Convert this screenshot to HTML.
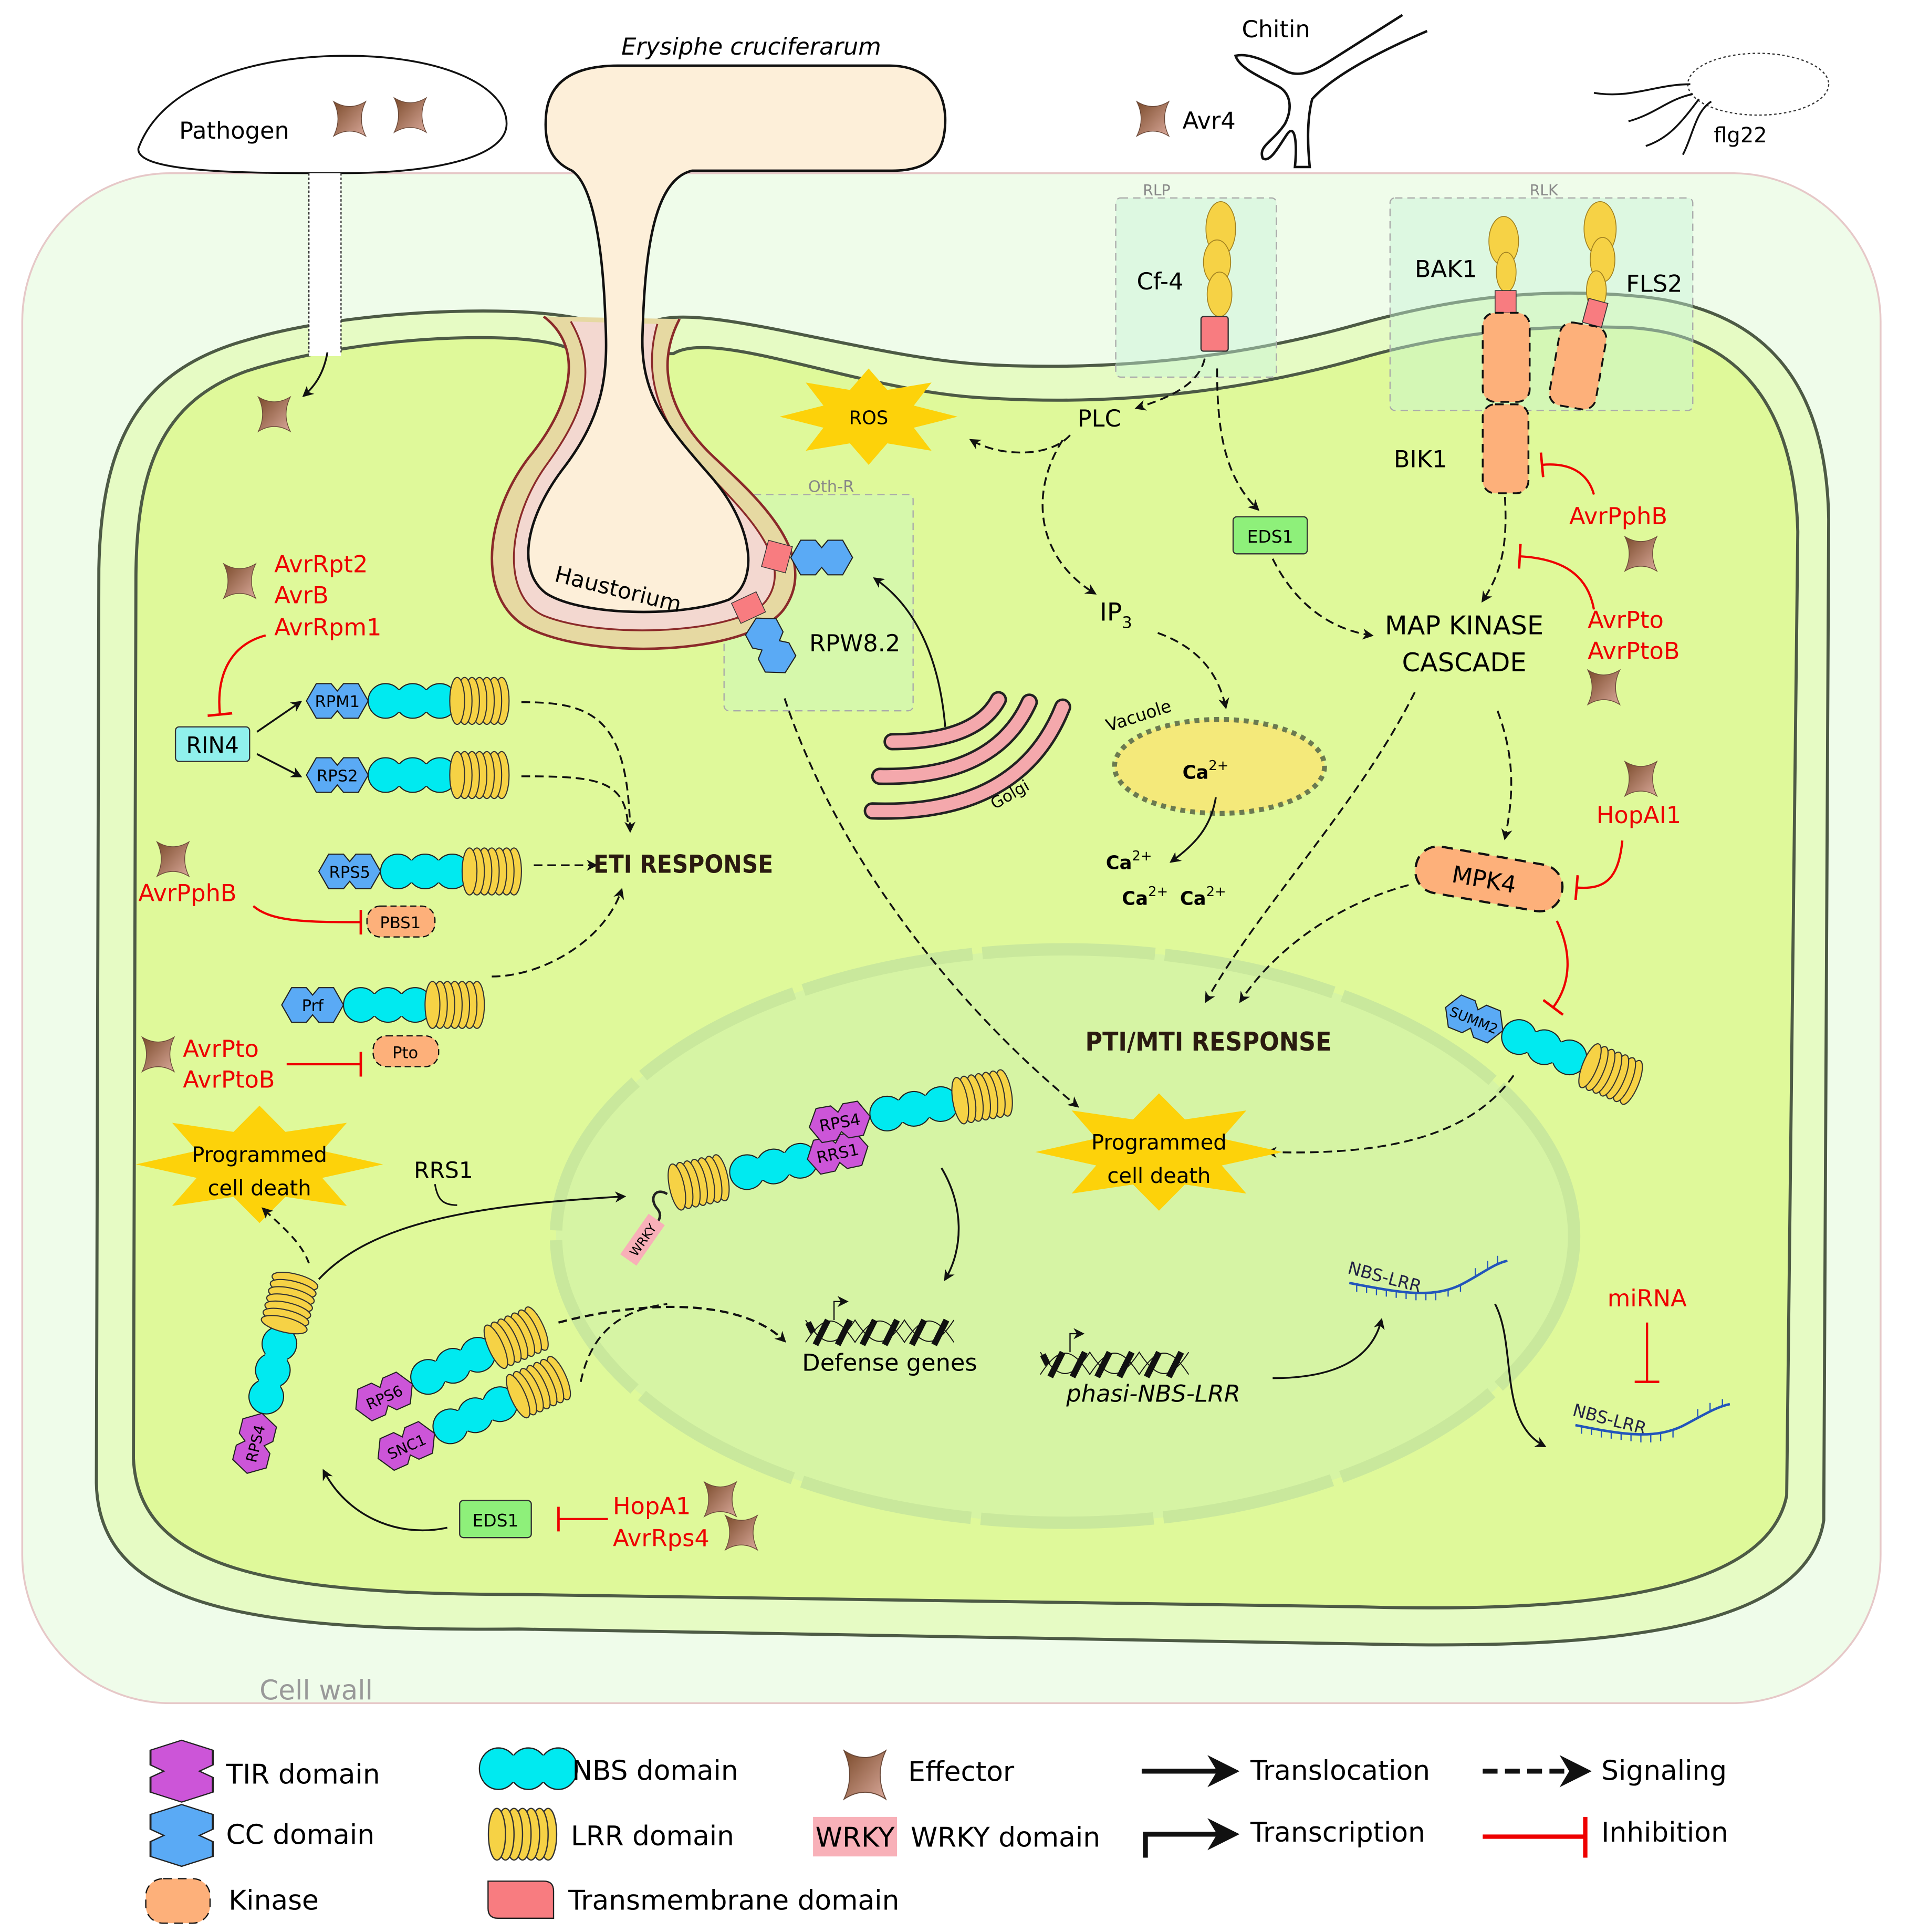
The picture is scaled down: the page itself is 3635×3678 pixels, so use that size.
<!DOCTYPE html>
<html><head><meta charset="utf-8"><style>html,body{margin:0;padding:0;background:#fff}svg{display:block}text{font-family:"DejaVu Sans","Liberation Sans",sans-serif}</style></head>
<body>
<svg width="3635" height="3678" viewBox="0 0 1545 1563" xmlns="http://www.w3.org/2000/svg">
<defs>
<marker id="ah" viewBox="0 0 10 10" refX="8" refY="5" markerWidth="9" markerHeight="9" orient="auto" markerUnits="userSpaceOnUse"><path d="M0,0 L10,5 L0,10 L3,5Z" fill="#111"/></marker>
<marker id="ahb" viewBox="0 0 10 10" refX="8" refY="5" markerWidth="26" markerHeight="26" orient="auto" markerUnits="userSpaceOnUse"><path d="M0,0 L10,5 L0,10 L3,5Z" fill="#111"/></marker>
<marker id="tb" viewBox="0 0 4 20" refX="2" refY="10" markerWidth="4" markerHeight="20" orient="auto" markerUnits="userSpaceOnUse"><path d="M2,0 L2,20" stroke="#e00" stroke-width="2"/></marker>
<linearGradient id="eg" x1="0" y1="0" x2="1" y2="1"><stop offset="0" stop-color="#7a4a2a"/><stop offset="1" stop-color="#d9a89a"/></linearGradient>
<path id="eff" d="M-13,-14 Q0,-6 13,-14 Q6,0 13,14 Q0,6 -13,14 Q-6,0 -13,-14Z" fill="url(#eg)" stroke="#6b4a3a" stroke-width="0.6"/>
<g id="nbs" stroke="#222" stroke-width="0.9" fill="#00eaf0"><circle cx="14" cy="0" r="14"/><circle cx="36" cy="0" r="14"/><circle cx="58" cy="0" r="14"/><rect x="14" y="-9" width="44" height="18" stroke="none"/></g>
<g id="lrr" fill="#f6d245" stroke="#333" stroke-width="0.9"><ellipse cx="44" cy="0" rx="6" ry="19"/><ellipse cx="38" cy="0" rx="6" ry="19"/><ellipse cx="32" cy="0" rx="6" ry="19"/><ellipse cx="26" cy="0" rx="6" ry="19"/><ellipse cx="20" cy="0" rx="6" ry="19"/><ellipse cx="14" cy="0" rx="6" ry="19"/><ellipse cx="8" cy="0" rx="6" ry="19"/></g>
<polygon id="hex" points="0,0 8,-14 20,-14 25,-8 30,-14 42,-14 50,0 42,14 30,14 25,8 20,14 8,14" stroke="#222" stroke-width="0.9"/>
<polygon id="star" points="100,0 50.8,11.5 70.7,35.4 21,27.7 0,50 -21,27.7 -70.7,35.4 -50.8,11.5 -100,0 -50.8,-11.5 -70.7,-35.4 -21,-27.7 0,-50 21,-27.7 70.7,-35.4 50.8,-11.5" fill="#fdd20a"/>
<g id="dna" stroke="#111" fill="none"><path d="M0,18 C15,-5 25,-5 40,18 C55,-5 65,-5 80,18 C95,-5 105,-5 120,18" stroke-width="0.8"/><path d="M0,0 C15,23 25,23 40,0 C55,23 65,23 80,0 C95,23 105,23 120,0" stroke-width="0.8"/><g stroke-width="5"><path d="M8,20 L18,0"/><path d="M26,20 L36,0"/><path d="M46,20 L56,0"/><path d="M64,20 L74,0"/><path d="M86,20 L96,0"/><path d="M104,20 L114,0"/><path d="M2,2 L6,10"/></g></g>
</defs>

<rect x="18" y="140" width="1504" height="1238" rx="120" fill="#effcea" stroke="#e6c8c8" stroke-width="1.5"/>
<path d="M490 268 C480 245 300 245 200 275 C110 300 82 360 80 460 L78 1200 C80 1300 200 1320 420 1318 L1100 1330 C1300 1335 1462 1320 1476 1230 L1480 420 C1478 300 1420 250 1330 240 C1250 232 1180 240 1100 262 C1000 290 900 300 800 295 C700 290 560 240 525 262 Z" fill="#e6fbc4" stroke="#4d5a45" stroke-width="2.5"/>
<path d="M466 286 C450 266 300 268 200 300 C130 325 110 380 110 470 L108 1180 C112 1270 220 1290 420 1290 L1100 1300 C1280 1305 1430 1290 1446 1210 L1455 430 C1452 320 1400 270 1320 265 C1240 262 1170 270 1100 290 C1000 318 900 328 800 322 C700 318 580 265 545 286 Z" fill="#dff99a" stroke="#4d5a45" stroke-width="2.5"/>
<rect x="903" y="160" width="130" height="145" rx="4" fill="#c8f5d8" fill-opacity="0.45" stroke="#aaa" stroke-dasharray="6 4"/>
<text x="925" y="158" font-size="12" fill="#888">RLP</text>
<rect x="1125" y="160" width="245" height="172" rx="4" fill="#c8f5d8" fill-opacity="0.45" stroke="#aaa" stroke-dasharray="6 4"/>
<text x="1238" y="158" font-size="12" fill="#888">RLK</text>
<ellipse cx="862" cy="1000" rx="412" ry="232" fill="#d6f4a4" stroke="#c9e89c" stroke-width="10" stroke-dasharray="140 8"/>
<rect x="586" y="400" width="153" height="175" rx="4" fill="#d0f6b8" fill-opacity="0.6" stroke="#aaa" stroke-dasharray="6 4"/>
<text x="654" y="398" font-size="13" fill="#888">Oth-R</text>

<!-- haustorium sheath -->
<path d="M440 256 C472 280 465 325 428 370 C390 420 385 490 432 510 C490 535 610 528 635 492 C665 448 610 400 578 370 C546 340 528 300 550 258 Z" fill="#e6d9a2"/>
<path d="M440 256 C472 280 465 325 428 370 C390 420 385 490 432 510 C490 535 610 528 635 492 C665 448 610 400 578 370 C546 340 528 300 550 258" fill="none" stroke="#8b2a2a" stroke-width="2"/>
<path d="M462 260 C485 300 472 335 443 375 C410 420 405 482 440 498 C490 518 600 512 620 486 C645 452 598 410 568 378 C540 350 518 310 532 262 Z" fill="#f3d8d0"/>
<path d="M462 260 C485 300 472 335 443 375 C410 420 405 482 440 498 C490 518 600 512 620 486 C645 452 598 410 568 378 C540 350 518 310 532 262" fill="none" stroke="#8b2a2a" stroke-width="1.5"/>
<path d="M463 138 C445 130 440 115 442 92 C445 62 470 53 500 53 L720 53 C750 53 765 72 765 97 C765 125 752 138 722 138 L560 138 C530 145 522 200 520 270 C518 320 540 345 575 385 C610 425 615 470 590 485 C550 500 470 498 442 480 C418 462 425 420 455 380 C490 335 492 300 490 260 C488 200 480 150 463 138 Z" fill="#fdefd9" stroke="#111" stroke-width="2"/>
<text x="608" y="44" font-size="19" font-style="italic" text-anchor="middle">Erysiphe cruciferarum</text>
<text x="448" y="470" font-size="18" transform="rotate(14 448 470)">Haustorium</text>

<path d="M112 120 C130 70 200 45 280 45 C360 45 410 70 410 100 C410 125 360 140 275 140 C200 140 110 140 112 120Z" fill="#fff" stroke="#111" stroke-width="1.5"/>
<text x="145" y="112" font-size="19">Pathogen</text>
<use href="#eff" x="283" y="96"/><use href="#eff" x="332" y="93"/>
<rect x="250" y="140" width="26" height="148" fill="#fff"/>
<path d="M250 140 L250 285 M276 140 L276 285" stroke="#333" stroke-dasharray="2 1.5"/>
<path d="M265 285 C262 302 255 312 246 320" fill="none" stroke="#111" stroke-width="1.5" marker-end="url(#ah)"/>
<use href="#eff" x="222" y="335"/>

<!-- chitin -->
<path d="M1135 12 L1075 50 C1062 58 1052 62 1042 58 C1030 52 1012 42 1000 45 C1003 55 1020 62 1035 70 C1045 76 1046 88 1040 100 C1030 115 1018 118 1022 128 C1028 132 1035 118 1042 108 C1048 100 1050 115 1048 135 L1060 135 C1058 115 1058 95 1062 80 C1080 60 1120 40 1155 25" fill="none" stroke="#111" stroke-width="2"/>
<text x="1005" y="30" font-size="19">Chitin</text>
<use href="#eff" x="933" y="96"/>
<text x="957" y="104" font-size="19">Avr4</text>
<ellipse cx="1423" cy="68" rx="57" ry="25" fill="#fff" stroke="#333" stroke-dasharray="2 2"/>
<path d="M1290 75 C1320 80 1340 68 1368 68 M1318 98 C1340 92 1350 80 1370 76 M1332 118 C1350 112 1360 100 1375 80 M1362 125 C1370 110 1372 90 1385 82" fill="none" stroke="#111" stroke-width="1.5"/>
<text x="1387" y="115" font-size="17">flg22</text>

<g fill="#f6d245" stroke="#a08020" stroke-width="0.7"><ellipse cx="988" cy="185" rx="12" ry="22"/><ellipse cx="985" cy="212" rx="11" ry="18"/><ellipse cx="987" cy="238" rx="10" ry="18"/></g>
<rect x="972" y="256" width="22" height="28" rx="2" fill="#f87c80" stroke="#333"/>
<text x="920" y="234" font-size="19">Cf-4</text>
<g fill="#f6d245" stroke="#a08020" stroke-width="0.7"><ellipse cx="1217" cy="195" rx="12" ry="20"/><ellipse cx="1219" cy="220" rx="8" ry="16"/></g>
<rect x="1210" y="235" width="17" height="18" fill="#f87c80" stroke="#333" stroke-width="0.7"/>
<rect x="1200" y="253" width="38" height="72" rx="10" fill="#fdb07a" stroke="#111" stroke-width="1.5" stroke-dasharray="7 5"/>
<rect x="1200" y="327" width="37" height="72" rx="10" fill="#fdb07a" stroke="#111" stroke-width="1.5" stroke-dasharray="7 5"/>
<text x="1145" y="224" font-size="19">BAK1</text>
<text x="1128" y="378" font-size="19">BIK1</text>
<g fill="#f6d245" stroke="#a08020" stroke-width="0.7"><ellipse cx="1295" cy="185" rx="13" ry="22"/><ellipse cx="1297" cy="210" rx="10" ry="18"/><ellipse cx="1292" cy="235" rx="8" ry="16"/></g>
<rect x="1283" y="243" width="16" height="20" fill="#f87c80" stroke="#333" stroke-width="0.7" transform="rotate(15 1291 253)"/>
<rect x="1258" y="262" width="38" height="68" rx="10" fill="#fdb07a" stroke="#111" stroke-width="1.5" stroke-dasharray="7 5" transform="rotate(10 1277 296)"/>
<text x="1316" y="236" font-size="19">FLS2</text>

<use href="#star" transform="translate(703 337) scale(0.72 0.78)"/>
<text x="703" y="343" font-size="15" text-anchor="middle">ROS</text>
<text x="872" y="345" font-size="19">PLC</text>
<path d="M975 290 C970 312 945 322 920 330" fill="none" stroke="#111" stroke-width="1.5" stroke-dasharray="7 4" marker-end="url(#ah)"/>
<path d="M985 298 C985 345 990 385 1018 412" fill="none" stroke="#111" stroke-width="1.5" stroke-dasharray="7 4" marker-end="url(#ah)"/>
<path d="M866 352 C850 370 810 370 786 356" fill="none" stroke="#111" stroke-width="1.5" stroke-dasharray="7 4" marker-end="url(#ah)"/>
<path d="M860 356 C832 400 840 452 886 480" fill="none" stroke="#111" stroke-width="1.5" stroke-dasharray="7 4" marker-end="url(#ah)"/>
<text x="890" y="502" font-size="20">IP<tspan font-size="13" dy="6">3</tspan></text>
<path d="M937 512 C965 522 985 540 992 572" fill="none" stroke="#111" stroke-width="1.5" stroke-dasharray="7 4" marker-end="url(#ah)"/>
<ellipse cx="987" cy="620" rx="85" ry="38" fill="#f4e97a" stroke="#6b7a50" stroke-width="4" stroke-dasharray="4 4"/>
<text x="897" y="592" font-size="14" transform="rotate(-18 897 592)">Vacuole</text>
<text x="957" y="630" font-size="15" font-weight="bold">Ca<tspan font-size="11" dy="-7" font-weight="normal">2+</tspan></text>
<path d="M984 645 C980 670 966 684 948 697" fill="none" stroke="#111" stroke-width="1.5" marker-end="url(#ah)"/>
<text x="895" y="703" font-size="15" font-weight="bold">Ca<tspan font-size="11" dy="-7" font-weight="normal">2+</tspan></text>
<text x="908" y="732" font-size="15" font-weight="bold">Ca<tspan font-size="11" dy="-7" font-weight="normal">2+</tspan></text>
<text x="955" y="732" font-size="15" font-weight="bold">Ca<tspan font-size="11" dy="-7" font-weight="normal">2+</tspan></text>

<rect x="998" y="418" width="60" height="30" rx="3" fill="#8ef07a" stroke="#333"/>
<text x="1028" y="439" font-size="14" text-anchor="middle">EDS1</text>
<path d="M1030 452 C1045 482 1070 508 1110 514" fill="none" stroke="#111" stroke-width="1.5" stroke-dasharray="7 4" marker-end="url(#ah)"/>
<text x="1185" y="513" font-size="21" text-anchor="middle">MAP KINASE</text>
<text x="1185" y="543" font-size="21" text-anchor="middle">CASCADE</text>
<path d="M1218 402 C1220 440 1216 462 1200 486" fill="none" stroke="#111" stroke-width="1.5" stroke-dasharray="7 4" marker-end="url(#ah)"/>
<path d="M1290 400 C1285 382 1270 374 1248 376" fill="none" stroke="#e00" stroke-width="1.8" marker-end="url(#tb)"/>
<text x="1270" y="424" font-size="19" fill="#e00">AvrPphB</text>
<use href="#eff" x="1328" y="448"/>
<path d="M1290 493 C1285 465 1265 452 1230 450" fill="none" stroke="#e00" stroke-width="1.8" marker-end="url(#tb)"/>
<text x="1285" y="508" font-size="19" fill="#e00">AvrPto</text>
<text x="1285" y="533" font-size="19" fill="#e00">AvrPtoB</text>
<use href="#eff" x="1298" y="556"/>
<path d="M1212 575 C1225 610 1226 640 1218 678" fill="none" stroke="#111" stroke-width="1.5" stroke-dasharray="7 4" marker-end="url(#ah)"/>
<use href="#eff" x="1328" y="630"/>
<text x="1292" y="666" font-size="19" fill="#e00">HopAI1</text>
<rect x="1145" y="692" width="120" height="38" rx="18" fill="#fdb07a" stroke="#111" stroke-width="1.8" stroke-dasharray="9 6" transform="rotate(10 1205 711)"/>
<text x="1200" y="718" font-size="19" text-anchor="middle" transform="rotate(10 1200 718)">MPK4</text>
<path d="M1313 680 C1310 710 1300 720 1276 718" fill="none" stroke="#e00" stroke-width="1.8" marker-end="url(#tb)"/>
<path d="M1145 560 C1100 650 1022 730 976 810" fill="none" stroke="#111" stroke-width="1.5" stroke-dasharray="7 4" marker-end="url(#ah)"/>
<path d="M1140 716 C1080 732 1030 770 1004 810" fill="none" stroke="#111" stroke-width="1.5" stroke-dasharray="7 4" marker-end="url(#ah)"/>
<path d="M1260 745 C1272 770 1272 795 1257 815" fill="none" stroke="#e00" stroke-width="1.8" marker-end="url(#tb)"/>
<text x="978" y="850" font-size="21" font-weight="bold" text-anchor="middle" fill="#2a1a10" transform="scale(0.9 1)" style="transform-origin:978px 850px">PTI/MTI RESPONSE</text>
<g transform="translate(1170 815) rotate(22)"><use href="#hex" fill="#5aaaf5"/><text x="25" y="5" font-size="11" text-anchor="middle">SUMM2</text><use href="#nbs" x="50"/><use href="#lrr" x="118"/></g>
<path d="M1225 870 C1190 920 1120 935 1026 932" fill="none" stroke="#111" stroke-width="1.5" stroke-dasharray="7 4" marker-end="url(#ah)"/>
<use href="#star" transform="translate(938 932) scale(1.0 0.95)"/>
<text x="938" y="930" font-size="17" text-anchor="middle">Programmed</text>
<text x="938" y="957" font-size="17" text-anchor="middle">cell death</text>

<g transform="translate(622 437) rotate(15)"><rect x="0" y="0" width="20" height="22" fill="#f87c80" stroke="#333" stroke-width="0.6"/></g>
<g transform="translate(640 451)"><use href="#hex" fill="#5aaaf5"/></g>
<g transform="translate(592 488) rotate(-25)"><rect x="0" y="0" width="22" height="18" fill="#f87c80" stroke="#333" stroke-width="0.6"/></g>
<g transform="translate(612 500) rotate(62)"><use href="#hex" fill="#5aaaf5"/></g>
<text x="655" y="527" font-size="19">RPW8.2</text>
<path d="M635 565 C680 700 780 820 872 895" fill="none" stroke="#111" stroke-width="1.5" stroke-dasharray="7 4" marker-end="url(#ah)"/>
<g fill="none" stroke-linecap="round">
<path d="M722 600 Q790 600 808 566" stroke="#222" stroke-width="14"/><path d="M722 600 Q790 600 808 566" stroke="#f4a8ac" stroke-width="10"/>
<path d="M712 628 Q805 630 833 568" stroke="#222" stroke-width="14"/><path d="M712 628 Q805 630 833 568" stroke="#f4a8ac" stroke-width="10"/>
<path d="M706 656 Q825 660 860 572" stroke="#222" stroke-width="14"/><path d="M706 656 Q825 660 860 572" stroke="#f4a8ac" stroke-width="10"/>
</g>
<text x="805" y="655" font-size="13" transform="rotate(-30 805 655)">Golgi</text>
<path d="M765 588 C760 530 740 490 708 468" fill="none" stroke="#111" stroke-width="1.5" marker-end="url(#ah)"/>

<use href="#eff" x="194" y="470"/>
<text x="222" y="463" font-size="19" fill="#e00">AvrRpt2</text>
<text x="222" y="488" font-size="19" fill="#e00">AvrB</text>
<text x="222" y="514" font-size="19" fill="#e00">AvrRpm1</text>
<path d="M215 514 C185 522 175 548 178 578" fill="none" stroke="#e00" stroke-width="1.8" marker-end="url(#tb)"/>
<rect x="142" y="588" width="60" height="28" rx="3" fill="#90f0ec" stroke="#333"/>
<text x="172" y="609" font-size="18" text-anchor="middle">RIN4</text>
<path d="M208 592 L243 568" stroke="#111" stroke-width="1.5" marker-end="url(#ah)"/>
<path d="M208 610 L243 628" stroke="#111" stroke-width="1.5" marker-end="url(#ah)"/>
<g transform="translate(248 567)"><use href="#hex" fill="#5aaaf5"/><text x="25" y="5" font-size="13" text-anchor="middle">RPM1</text><use href="#nbs" x="50"/><use href="#lrr" x="114"/></g>
<g transform="translate(248 627)"><use href="#hex" fill="#5aaaf5"/><text x="25" y="5" font-size="13" text-anchor="middle">RPS2</text><use href="#nbs" x="50"/><use href="#lrr" x="114"/></g>
<g transform="translate(258 705)"><use href="#hex" fill="#5aaaf5"/><text x="25" y="5" font-size="13" text-anchor="middle">RPS5</text><use href="#nbs" x="50"/><use href="#lrr" x="114"/></g>
<g transform="translate(228 813)"><use href="#hex" fill="#5aaaf5"/><text x="25" y="5" font-size="13" text-anchor="middle">Prf</text><use href="#nbs" x="50"/><use href="#lrr" x="114"/></g>
<path d="M422 568 C480 568 508 580 510 672" fill="none" stroke="#111" stroke-width="1.5" stroke-dasharray="7 4" marker-end="url(#ah)"/>
<path d="M422 628 C480 628 505 630 508 665" fill="none" stroke="#111" stroke-width="1.5" stroke-dasharray="7 4"/>
<path d="M432 700 L482 700" stroke="#111" stroke-width="1.5" stroke-dasharray="7 4" marker-end="url(#ah)"/>
<path d="M398 790 C440 790 490 760 503 720" fill="none" stroke="#111" stroke-width="1.5" stroke-dasharray="7 4" marker-end="url(#ah)"/>
<text x="553" y="706" font-size="20" font-weight="bold" text-anchor="middle" fill="#2a1a10" transform="scale(0.9 1)" style="transform-origin:553px 706px">ETI RESPONSE</text>
<use href="#eff" x="140" y="695"/>
<text x="112" y="729" font-size="19" fill="#e00">AvrPphB</text>
<path d="M205 733 C220 746 250 746 292 746" fill="none" stroke="#e00" stroke-width="1.8" marker-end="url(#tb)"/>
<rect x="297" y="733" width="55" height="25" rx="11" fill="#fdb07a" stroke="#111" stroke-dasharray="5 3"/>
<text x="324" y="751" font-size="13" text-anchor="middle">PBS1</text>
<rect x="302" y="838" width="53" height="25" rx="11" fill="#fdb07a" stroke="#111" stroke-dasharray="5 3"/>
<text x="328" y="856" font-size="13" text-anchor="middle">Pto</text>
<use href="#eff" x="128" y="853"/>
<text x="148" y="855" font-size="19" fill="#e00">AvrPto</text>
<text x="148" y="880" font-size="19" fill="#e00">AvrPtoB</text>
<path d="M232 861 L292 861" stroke="#e00" stroke-width="1.8" marker-end="url(#tb)"/>
<use href="#star" transform="translate(210 942) scale(1.0 0.95)"/>
<text x="210" y="940" font-size="17" text-anchor="middle">Programmed</text>
<text x="210" y="967" font-size="17" text-anchor="middle">cell death</text>
<text x="335" y="953" font-size="18">RRS1</text>
<path d="M352 958 C354 970 358 975 370 975" fill="none" stroke="#111" stroke-width="1.3"/>

<g transform="translate(540 962) rotate(-12)"><use href="#lrr"/><use href="#nbs" x="52"/><g transform="translate(116 0)"><use href="#hex" fill="#cc55d8"/><text x="25" y="5" font-size="13" text-anchor="middle">RRS1</text></g></g>
<g transform="translate(655 912) rotate(-10)"><use href="#hex" fill="#cc55d8"/><text x="25" y="5" font-size="13" text-anchor="middle">RPS4</text><use href="#nbs" x="50"/><use href="#lrr" x="116"/></g>
<path d="M540 966 C530 960 525 970 532 978 C538 985 530 992 525 995" fill="none" stroke="#222" stroke-width="2"/>
<g transform="translate(520 1003) rotate(-55)"><rect x="-20" y="-8" width="40" height="16" fill="#f8b0b8"/><text x="0" y="4" font-size="10" text-anchor="middle">WRKY</text></g>
<path d="M762 945 C780 975 780 1010 765 1035" fill="none" stroke="#111" stroke-width="1.5" marker-end="url(#ah)"/>
<g transform="translate(200 1192) rotate(-76)"><use href="#hex" fill="#cc55d8"/><text x="25" y="5" font-size="12" text-anchor="middle">RPS4</text><use href="#nbs" x="50"/><use href="#lrr" x="116"/></g>
<path d="M250 1022 C244 1005 228 992 213 978" fill="none" stroke="#111" stroke-width="1.5" stroke-dasharray="6 4" marker-end="url(#ah)"/>
<path d="M258 1035 C300 990 380 975 505 968" fill="none" stroke="#111" stroke-width="1.5" marker-end="url(#ah)"/>
<g transform="translate(288 1140) rotate(-24)"><use href="#hex" fill="#cc55d8"/><text x="25" y="5" font-size="12" text-anchor="middle">RPS6</text><use href="#nbs" x="50"/><use href="#lrr" x="116"/></g>
<g transform="translate(306 1180) rotate(-24)"><use href="#hex" fill="#cc55d8"/><text x="25" y="5" font-size="12" text-anchor="middle">SNC1</text><use href="#nbs" x="50"/><use href="#lrr" x="116"/></g>
<path d="M452 1070 C520 1052 600 1050 635 1085" fill="none" stroke="#111" stroke-width="1.8" stroke-dasharray="7 4" marker-end="url(#ah)"/>
<path d="M470 1118 C478 1080 500 1060 540 1055" fill="none" stroke="#111" stroke-width="1.5" stroke-dasharray="7 4"/>
<use href="#dna" x="652" y="1068"/>
<path d="M675 1068 L675 1053 L685 1053" fill="none" stroke="#111" marker-end="url(#ah)"/>
<text x="720" y="1109" font-size="19" text-anchor="middle">Defense genes</text>
<use href="#dna" x="842" y="1094"/>
<path d="M866 1094 L866 1079 L876 1079" fill="none" stroke="#111" marker-end="url(#ah)"/>
<text x="863" y="1134" font-size="19" font-style="italic">phasi-NBS-LRR</text>
<path d="M1030 1115 C1080 1115 1110 1100 1118 1068" fill="none" stroke="#111" stroke-width="1.5" marker-end="url(#ah)"/>
<g>
<text x="1090" y="1030" font-size="14" font-family="Liberation Serif,serif" fill="#224" transform="rotate(15 1090 1030)">NBS-LRR</text>
<path d="M1092 1038 C1130 1045 1160 1052 1185 1038 C1200 1030 1210 1022 1220 1020" fill="none" stroke="#2255bb" stroke-width="2"/>
<path d="M1098 1039 v6 M1106 1040 v6 M1114 1042 v6 M1122 1043 v6 M1130 1044 v6 M1138 1045 v6 M1146 1046 v6 M1154 1046 v6 M1162 1046 v6 M1172 1043 v6 M1182 1039 v6 M1194 1032 v-6 M1204 1026 v-6 M1212 1022 v-6" stroke="#2255bb"/>
</g>
<g>
<text x="1272" y="1145" font-size="14" font-family="Liberation Serif,serif" fill="#224" transform="rotate(15 1272 1145)">NBS-LRR</text>
<path d="M1275 1153 C1310 1160 1340 1166 1365 1152 C1380 1144 1390 1138 1400 1136" fill="none" stroke="#2255bb" stroke-width="2"/>
<path d="M1280 1154 v6 M1288 1155 v6 M1296 1157 v6 M1304 1158 v6 M1312 1159 v6 M1320 1160 v6 M1328 1161 v6 M1336 1161 v6 M1344 1160 v6 M1354 1157 v6 M1374 1146 v-6 M1384 1141 v-6 M1394 1138 v-6" stroke="#2255bb"/>
</g>
<path d="M1210 1055 C1228 1090 1212 1150 1250 1170" fill="none" stroke="#111" stroke-width="1.5" marker-end="url(#ah)"/>
<text x="1333" y="1057" font-size="19" fill="#e00" text-anchor="middle">miRNA</text>
<path d="M1333 1070 L1333 1118" stroke="#e00" stroke-width="1.8" marker-end="url(#tb)"/>

<rect x="372" y="1214" width="58" height="30" rx="3" fill="#8ef07a" stroke="#333"/>
<text x="401" y="1235" font-size="14" text-anchor="middle">EDS1</text>
<path d="M362 1236 C320 1245 280 1225 262 1190" fill="none" stroke="#111" stroke-width="1.5" marker-end="url(#ah)"/>
<path d="M492 1229 L452 1229" stroke="#e00" stroke-width="1.8" marker-end="url(#tb)"/>
<text x="496" y="1225" font-size="19" fill="#e00">HopA1</text>
<text x="496" y="1251" font-size="19" fill="#e00">AvrRps4</text>
<use href="#eff" x="583" y="1213"/><use href="#eff" x="600" y="1240"/>
<text x="210" y="1375" font-size="22" fill="#999">Cell wall</text>

<g font-size="22">
<g transform="translate(147 1433) rotate(90) translate(-25 0)"><use href="#hex" fill="#cc55d8" transform="scale(1 1.8)"/></g>
<text x="183" y="1443">TIR domain</text>
<g transform="translate(147 1485) rotate(90) translate(-25 0)"><use href="#hex" fill="#5aaaf5" transform="scale(1 1.8)"/></g>
<text x="183" y="1492">CC domain</text>
<rect x="118" y="1520" width="52" height="36" rx="14" fill="#fdb07a" stroke="#111" stroke-dasharray="7 5"/>
<text x="185" y="1545">Kinase</text>
<g transform="translate(388 1431) scale(1.1 1.2)"><use href="#nbs"/></g>
<text x="463" y="1440">NBS domain</text>
<g transform="translate(393 1484) scale(1.15 1.1)"><use href="#lrr"/></g>
<text x="462" y="1493">LRR domain</text>
<path d="M395 1522 L440 1522 Q448 1522 448 1530 L448 1552 L403 1552 Q395 1552 395 1544Z" fill="#f87c80" stroke="#222"/>
<text x="460" y="1545">Transmembrane domain</text>
<use href="#eff" transform="translate(700 1436) scale(1.3 1.4)"/>
<text x="735" y="1441">Effector</text>
<rect x="658" y="1470" width="68" height="32" fill="#f8b0b8"/>
<text x="692" y="1494" text-anchor="middle" font-size="22">WRKY</text>
<text x="737" y="1494">WRKY domain</text>
<path d="M924 1433 L998 1433" stroke="#111" stroke-width="4" marker-end="url(#ahb)"/>
<text x="1012" y="1440">Translocation</text>
<path d="M927 1503 L927 1484 L998 1484" fill="none" stroke="#111" stroke-width="4" marker-end="url(#ahb)"/>
<text x="1012" y="1490">Transcription</text>
<path d="M1200 1433 L1283 1433" stroke="#111" stroke-width="4" stroke-dasharray="12 6" marker-end="url(#ahb)"/>
<text x="1296" y="1440">Signaling</text>
<path d="M1200 1486 L1283 1486 M1283 1470 L1283 1503" stroke="#e00" stroke-width="3.5" fill="none"/>
<text x="1296" y="1490">Inhibition</text>
</g>
</svg>
</body></html>
